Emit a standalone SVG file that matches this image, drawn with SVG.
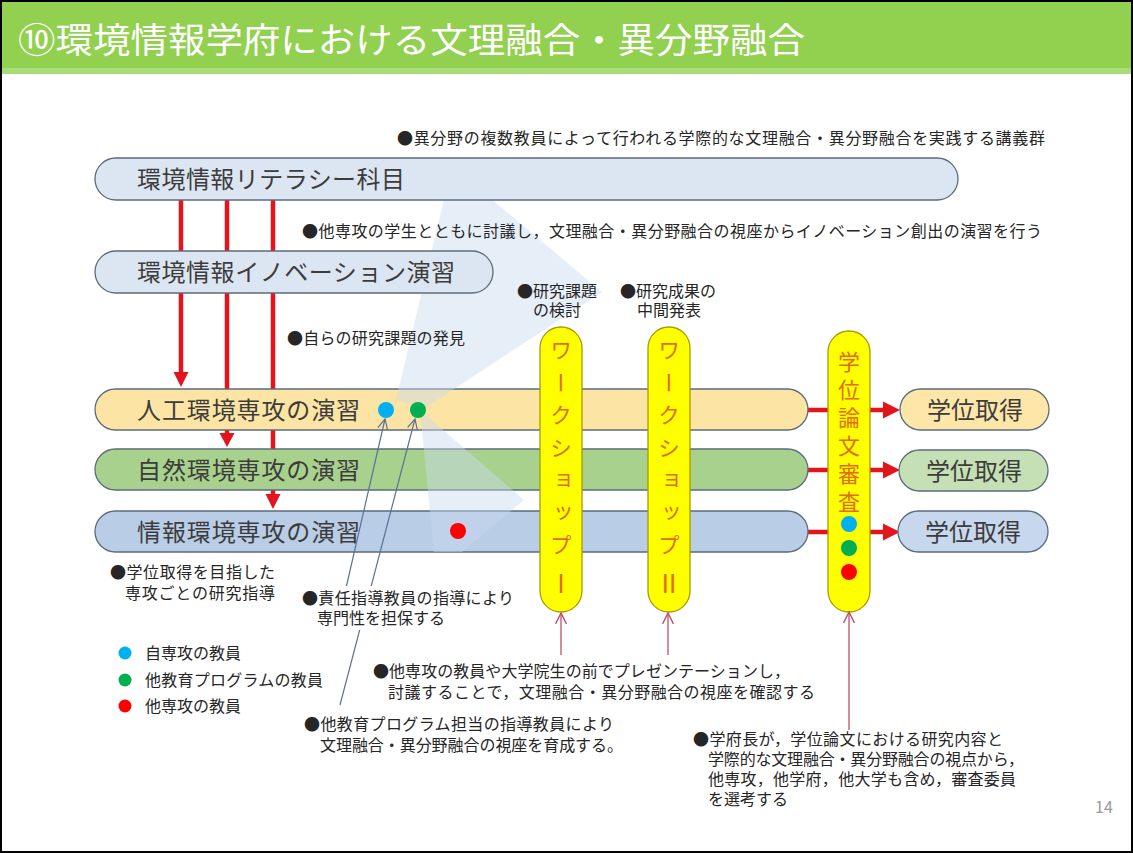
<svg xmlns="http://www.w3.org/2000/svg" width="1133" height="853" viewBox="0 0 1133 853">
<defs>
<style>
text{font-family:"Noto Sans CJK JP","Noto Sans CJK SC",sans-serif;}
.bar{stroke:#5c6b7c;stroke-width:1.3;}
.lbl{font-size:24px;fill:#3c3c3c;}
.sm{font-size:16px;fill:#262626;}
.pill{fill:#ffff00;stroke:#a89c00;stroke-width:1.3;}
.vt{font-size:22px;fill:#e36c09;writing-mode:vertical-rl;}
.rn{font-size:25px;fill:#e36c09;}
.red{stroke:#e3141c;stroke-width:4.5;fill:none;}
.redh{fill:#e3141c;}
.thin{stroke:#5b7196;stroke-width:1.2;fill:none;}
.pink{stroke:#c0506a;stroke-width:1.3;fill:none;}
</style>
<marker id="ob" viewBox="0 0 12 12" refX="11" refY="6" markerWidth="12" markerHeight="12" markerUnits="userSpaceOnUse" orient="auto">
<path d="M1,1 L11,6 L1,11" fill="none" stroke="#5b7196" stroke-width="1.2"/>
</marker>
<marker id="op" viewBox="0 0 12 12" refX="11" refY="6" markerWidth="13" markerHeight="13" markerUnits="userSpaceOnUse" orient="auto">
<path d="M1,1 L11,6 L1,11" fill="none" stroke="#c0506a" stroke-width="1.3"/>
</marker>
</defs>
<rect x="0" y="0" width="1133" height="853" fill="#ffffff"/>
<g id="header">
<rect x="0" y="0" width="1133" height="70" fill="#92d050"/>
<rect x="0" y="68" width="1133" height="6" fill="#a8dc78"/>
<text x="18" y="53" font-size="35" fill="#ffffff" textLength="787" lengthAdjust="spacingAndGlyphs">⑩環境情報学府における文理融合・異分野融合</text>
</g>
<g id="connectors">
<line class="red" x1="181" y1="200" x2="181" y2="374"/>
<polygon class="redh" points="173.5,372 188.5,372 181,387"/>
<line class="red" x1="227" y1="200" x2="227" y2="435"/>
<polygon class="redh" points="219.5,433 234.5,433 227,447"/>
<line class="red" x1="273" y1="200" x2="273" y2="496"/>
<polygon class="redh" points="265.5,494 280.5,494 273,509"/>
<line class="red" x1="806" y1="410" x2="830" y2="410"/>
<line class="red" x1="806" y1="470" x2="830" y2="470"/>
<line class="red" x1="806" y1="532" x2="830" y2="532"/>
<line class="red" x1="868" y1="410" x2="885" y2="410"/>
<polygon class="redh" points="883,401.5 900,410 883,418.5"/>
<line class="red" x1="868" y1="470" x2="885" y2="470"/>
<polygon class="redh" points="883,461.5 900,470 883,478.5"/>
<line class="red" x1="868" y1="532" x2="885" y2="532"/>
<polygon class="redh" points="883,523.5 900,532 883,540.5"/>
</g>
<g id="jinko">
<rect class="bar" x="95" y="389" width="713" height="41" rx="20.5" fill="#fce4a4"/>
<text class="lbl" x="137" y="419" textLength="223">人工環境専攻の演習</text>
</g>
<g id="shizen">
<rect class="bar" x="95" y="449" width="713" height="41" rx="20.5" fill="#a9d18e"/>
<text class="lbl" x="137" y="479" textLength="223">自然環境専攻の演習</text>
</g>
<g id="joho">
<rect class="bar" x="95" y="511" width="713" height="41" rx="20.5" fill="#b9cde6"/>
<text class="lbl" x="137" y="541" textLength="223">情報環境専攻の演習</text>
</g>
<g id="fan" fill="#c8daee" fill-opacity="0.45">
<polygon points="452,166 602,292 425,408 396,400"/>
<polygon points="420,410 524,500 462,552 434,552"/>
</g>
<g id="literacy">
<rect class="bar" x="95" y="158" width="863" height="42" rx="21" fill="#dce6f2"/>
<text class="lbl" x="137" y="188" textLength="268">環境情報リテラシー科目</text>
</g>
<g id="innovation">
<rect class="bar" x="95" y="251" width="398" height="42" rx="21" fill="#dce6f2"/>
<text class="lbl" x="137" y="281" textLength="318">環境情報イノベーション演習</text>
</g>
<g id="workshop1">
<rect class="pill" x="540" y="327" width="42" height="285" rx="21"/>
<text class="vt" x="561" y="339" letter-spacing="10.5">ワークショップ</text>
<text class="rn" x="561" y="593" text-anchor="middle">Ⅰ</text>
</g>
<g id="workshop2">
<rect class="pill" x="648" y="327" width="42" height="285" rx="21"/>
<text class="vt" x="669" y="339" letter-spacing="10.5">ワークショップ</text>
<text class="rn" x="669" y="593" text-anchor="middle">Ⅱ</text>
</g>
<g id="shinsa">
<rect class="pill" x="828" y="331" width="42" height="281" rx="21"/>
<text class="vt" x="849" y="351" font-size="23" letter-spacing="6">学位論文審査</text>
<circle cx="849" cy="524" r="8" fill="#00b0f0"/>
<circle cx="849" cy="548" r="8" fill="#00b050"/>
<circle cx="849" cy="572" r="8" fill="#ff0000"/>
</g>
<g id="degree1">
<rect class="bar" x="900" y="389" width="149" height="41" rx="20.5" fill="#fde6a8"/>
<text class="lbl" x="975" y="419" text-anchor="middle">学位取得</text>
</g>
<g id="degree2">
<rect class="bar" x="899" y="450" width="149" height="41" rx="20.5" fill="#c5e0b4"/>
<text class="lbl" x="974" y="480" text-anchor="middle">学位取得</text>
</g>
<g id="degree3">
<rect class="bar" x="898" y="511" width="150" height="41" rx="20.5" fill="#c6d7ee"/>
<text class="lbl" x="973" y="541" text-anchor="middle">学位取得</text>
</g>
<g id="dots">
<circle cx="386" cy="410" r="8" fill="#00b0f0"/>
<circle cx="418" cy="410" r="8" fill="#00b050"/>
<circle cx="458" cy="531" r="8" fill="#ff0000"/>
</g>
<g id="thin-connectors">
<line class="thin" x1="340" y1="614" x2="385" y2="419" marker-end="url(#ob)"/>
<line class="thin" x1="340" y1="705" x2="415" y2="419" marker-end="url(#ob)"/>
<line class="pink" x1="561" y1="655" x2="561" y2="613" marker-end="url(#op)"/>
<line class="pink" x1="668" y1="655" x2="668" y2="613" marker-end="url(#op)"/>
<line class="pink" x1="849" y1="730" x2="849" y2="612" marker-end="url(#op)"/>
</g>
<g id="texts">
<text class="sm" x="397" y="144" textLength="648">●異分野の複数教員によって行われる学際的な文理融合・異分野融合を実践する講義群</text>
<text class="sm" x="302" y="237" textLength="740">●他専攻の学生とともに討議し，文理融合・異分野融合の視座からイノベーション創出の演習を行う</text>
<text class="sm" x="287" y="344" textLength="178">●自らの研究課題の発見</text>
<text class="sm" x="517" y="297">●研究課題</text>
<text class="sm" x="533" y="316">の検討</text>
<text class="sm" x="620" y="297">●研究成果の</text>
<text class="sm" x="637" y="316">中間発表</text>
<text class="sm" x="110" y="578" textLength="165">●学位取得を目指した</text>
<text class="sm" x="125" y="599" textLength="150">専攻ごとの研究指導</text>
<rect x="298" y="586" width="218" height="44" fill="#ffffff"/>
<text class="sm" x="302" y="604" textLength="212">●責任指導教員の指導により</text>
<text class="sm" x="317" y="624">専門性を担保する</text>
<circle cx="125" cy="653" r="6.5" fill="#00b0f0"/>
<text class="sm" x="145" y="659">自専攻の教員</text>
<circle cx="125" cy="680" r="6.5" fill="#00b050"/>
<text class="sm" x="145" y="686" textLength="178">他教育プログラムの教員</text>
<circle cx="125" cy="706" r="6.5" fill="#ff0000"/>
<text class="sm" x="145" y="712">他専攻の教員</text>
<text class="sm" x="373" y="677" textLength="417">●他専攻の教員や大学院生の前でプレゼンテーションし，</text>
<text class="sm" x="388" y="698" textLength="427">討議することで，文理融合・異分野融合の視座を確認する</text>
<text class="sm" x="304" y="730" textLength="310">●他教育プログラム担当の指導教員により</text>
<text class="sm" x="320" y="751" textLength="303">文理融合・異分野融合の視座を育成する。</text>
<text class="sm" x="693" y="745" textLength="310">●学府長が，学位論文における研究内容と</text>
<text class="sm" x="708" y="765" textLength="316">学際的な文理融合・異分野融合の視点から，</text>
<text class="sm" x="708" y="785" textLength="308">他専攻，他学府，他大学も含め，審査委員</text>
<text class="sm" x="708" y="805">を選考する</text>
<text x="1095" y="813" font-size="16" fill="#9a9a9a" font-family="Liberation Sans, sans-serif">14</text>
</g>
<rect x="1" y="1" width="1131" height="851" fill="none" stroke="#000000" stroke-width="2"/>
</svg>
